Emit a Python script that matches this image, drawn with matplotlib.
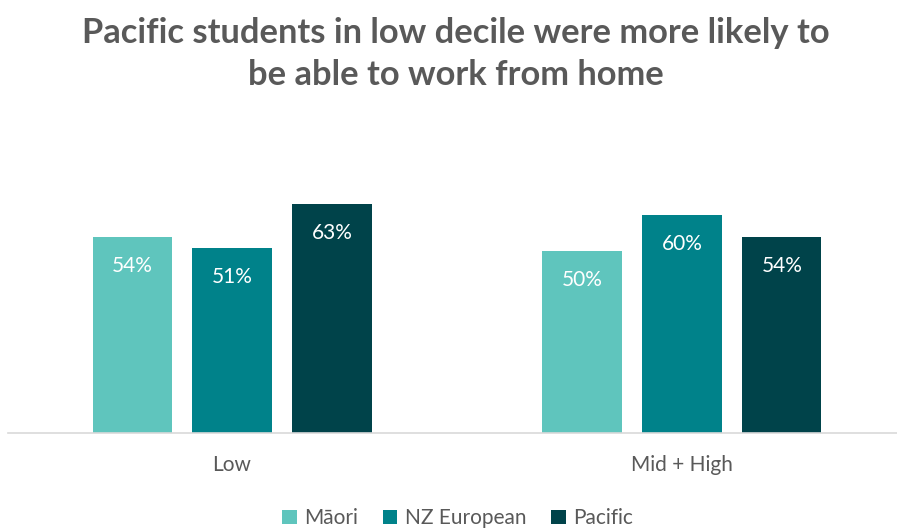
import matplotlib
matplotlib.use("Agg")
import matplotlib.pyplot as plt
import numpy as np

plt.rcParams["font.family"] = ["Lato", "DejaVu Sans"]

categories = ["Low", "Mid + High"]
series = ["Māori", "NZ European", "Pacific"]
values = {
    "Māori": [54, 50],
    "NZ European": [51, 60],
    "Pacific": [63, 54],
}
colors = {"Māori": "#5fc5bd", "NZ European": "#00828a", "Pacific": "#00434a"}
grey = "#595959"

fig = plt.figure(figsize=(8.97, 5.30), dpi=100)
ax = fig.add_axes([8 / 897, 97 / 530, 889 / 897, 283 / 530])

x = np.arange(len(categories))
width = 0.176
step = 0.222
for i, name in enumerate(series):
    bars = ax.bar(x + (i - 1) * step, values[name], width, color=colors[name], label=name)
    for b, v in zip(bars, values[name]):
        ax.text(b.get_x() + b.get_width() / 2, v - 8.0, f"{v}%", ha="center", va="center",
                color="white", fontsize=15)

ax.set_xlim(-0.498, 1.478)
ax.set_ylim(0, 77.9)
ax.set_yticks([])
ax.set_xticks(x)
ax.set_xticklabels(categories, fontsize=15, color=grey)
ax.tick_params(axis="x", length=0, pad=16)
for s in ["top", "right", "left"]:
    ax.spines[s].set_visible(False)
ax.spines["bottom"].set_color("#d9d9d9")
ax.spines["bottom"].set_linewidth(1.2)

fig.text(0.508, 0.968, "Pacific students in low decile were more likely to\nbe able to work from home",
         ha="center", va="top", fontsize=24.8, fontweight="bold", color=grey, linespacing=1.38)

fig.legend(loc="lower center", bbox_to_anchor=(0.51, -0.032), ncol=3, frameon=False,
           fontsize=15, handlelength=0.7, handleheight=0.7, handletextpad=0.35,
           columnspacing=1.2, labelcolor=grey)

fig.savefig("out.png", dpi=100)
